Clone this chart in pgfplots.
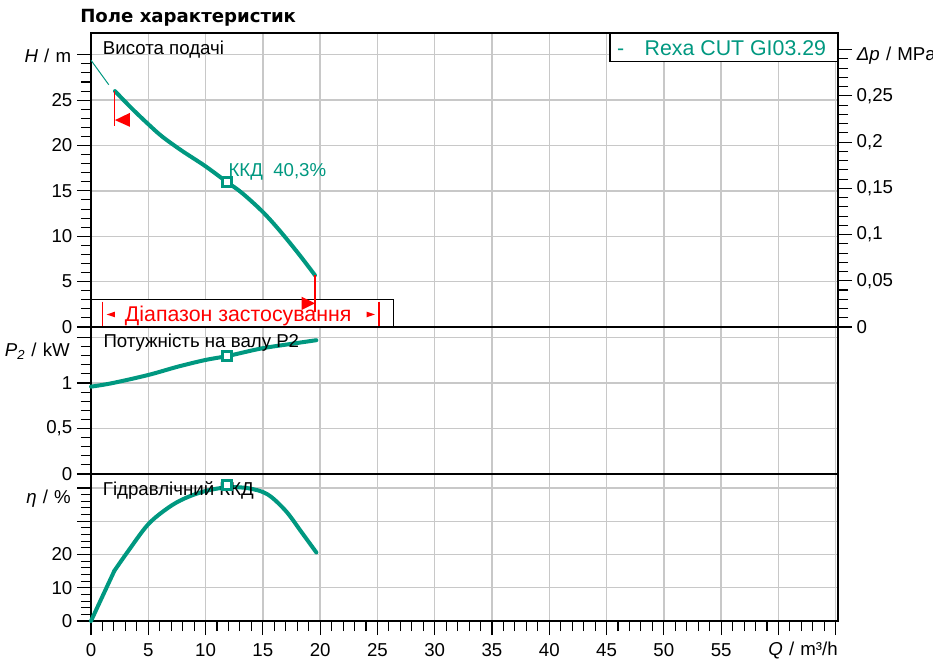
\documentclass[border=0pt]{standalone}
\usepackage{pgfplots}
\pgfplotsset{compat=1.18}
\usepackage{fontspec}
\setmainfont{Liberation Sans}
\newfontfamily\titlefont{DejaVu Sans}
\definecolor{wteal}{RGB}{0,152,128}
\definecolor{gridc}{RGB}{200,200,200}
\pgfplotsset{
  panel/.style={
    scale only axis, width=560.25pt,
    xmin=0, xmax=65.2,
    axis line style={line width=0.8pt},
    grid=major, major grid style={gridc, line width=1pt},
    xtick={0,5,...,65},
    tick align=outside,
    major tick length=10.5pt, minor tick length=7.5pt,
    tick style={black, line width=0.8pt},
    ytick pos=left,
    tick label style={font=\fontsize{14}{16}\selectfont},
    xticklabel style={yshift=-3pt},
    /pgf/number format/assume math mode=true,
    clip=false,
  },
  crv/.style={wteal, line width=3pt, line cap=round, line join=round},
  bp/.style={wteal, line width=2.2pt, only marks, mark=square*, mark size=3.3pt, mark options={fill=white}},
}
\tikzset{lbl/.style={anchor=base west, inner sep=0pt, font=\fontsize{14}{16}\selectfont},
  albl/.style={inner sep=0pt, font=\fontsize{14}{16}\selectfont}}
\newcommand{\slsep}{\hspace{0.33em}/\hspace{0.33em}}
\begin{document}
\begin{tikzpicture}
\useasboundingbox (0,0) rectangle (699.75pt,-497.25pt);
% title
\node[anchor=base west, inner sep=0pt, font=\titlefont\bfseries\fontsize{13.6}{15}\selectfont] at (60pt,-17pt) {Поле характеристик};
% ---------------- top panel: head ----------------
\begin{axis}[panel, at={(68.25pt,-245.25pt)}, anchor=south west, height=220.5pt,
  ymin=0, ymax=32.4, ytick={0,5,...,30}, yticklabels={0,5,10,15,20,25,{}},
  minor y tick num=4, xticklabels={}, x tick style={draw=none}]
\addplot[wteal, line width=0.75pt] coordinates {(0,29.4) (1.55,26.7)};
\addplot[crv, smooth, tension=0.55] coordinates {(2.09,26.0) (3.55,24.1) (5.0,22.35) (6.2,21.0) (7.9,19.45) (9.95,17.75) (11.84,16.0) (13.15,14.8) (14.9,12.8) (16.35,10.8) (18.1,8.1) (19.55,5.7)};
% application range box
\addplot[draw=black, fill=white, line width=0.8pt] coordinates {(0,0) (26.4,0) (26.4,3.08) (0,3.08)} -- cycle;
\addplot[red, line width=1.2pt] coordinates {(1.02,2.79) (1.02,0.14)};
\addplot[red, line width=1.2pt] coordinates {(25.13,2.79) (25.13,0.14)};
\addplot[fill=red, draw=none] coordinates {(1.37,1.38) (2.09,1.69) (2.09,1.07)} -- cycle;
\addplot[fill=red, draw=none] coordinates {(24.78,1.38) (24.06,1.69) (24.06,1.07)} -- cycle;
\node[red, anchor=base, inner sep=0pt, font=\fontsize{16}{18}\selectfont] at (axis cs:12.85,0.58) {Діапазон застосування};
% range limit markers
\addplot[red, line width=0.8pt] coordinates {(2.09,26.0) (2.09,22.1)};
\addplot[fill=red, draw=none] coordinates {(2.09,22.8) (3.4,23.6) (3.4,22.06)} -- cycle;
\addplot[red, line width=0.8pt] coordinates {(19.55,5.7) (19.55,1.65)};
\addplot[fill=red, draw=none] coordinates {(19.55,2.61) (18.38,3.34) (18.38,1.87)} -- cycle;
% best point
\addplot[bp] coordinates {(11.84,16.0)};
\node[lbl, wteal] at (axis cs:11.98,16.6) {ККД\ \ 40,3\%};
\node[lbl] at (axis cs:1.02,30.07) {Висота подачі};
% legend box
\addplot[draw=black, fill=white, line width=0.8pt] coordinates {(45.3,32.4) (65.2,32.4) (65.2,29.3) (45.3,29.3)} -- cycle;
\node[lbl, wteal, font=\fontsize{16}{18}\selectfont] at (axis cs:45.9,29.9) {-};
\node[lbl, wteal, font=\fontsize{16}{18}\selectfont] at (axis cs:48.3,29.9) {Rexa CUT GI03.29};
\end{axis}
% right axis (pressure)
\begin{axis}[at={(68.25pt,-245.25pt)}, anchor=south west, scale only axis, width=560.25pt, height=220.5pt,
  xmin=0, xmax=65.2, ymin=0, ymax=0.318, axis x line=none, axis y line*=right,
  axis line style={line width=0.8pt},
  ytick={0,0.05,0.1,0.15,0.2,0.25,0.3}, yticklabels={0,{0,05},{0,1},{0,15},{0,2},{0,25},{}},
  minor y tick num=4, tick align=outside, major tick length=10.5pt, minor tick length=7.5pt,
  tick style={black, line width=0.8pt},
  tick label style={font=\fontsize{14}{16}\selectfont}]
\addplot[draw=none] coordinates {(0,0)};
\end{axis}
% ---------------- middle panel: power ----------------
\begin{axis}[panel, at={(68.25pt,-355.5pt)}, anchor=south west, height=110.25pt,
  ymin=0, ymax=1.615, ytick={0,0.5,1,1.5}, yticklabels={0,{0,5},1,{}},
  minor y tick num=4, xticklabels={}, x tick style={draw=none}]
\addplot[crv, smooth, tension=0.55] coordinates {(0,0.96) (1.8,0.997) (5,1.088) (7.6,1.18) (10,1.253) (11.94,1.297) (14.9,1.38) (17.5,1.43) (19.67,1.47)};
\addplot[bp] coordinates {(11.84,1.30)};
\node[lbl] at (axis cs:1.07,1.388) {Потужність на валу P2};
\end{axis}
% ---------------- bottom panel: efficiency ----------------
\begin{axis}[panel, at={(68.25pt,-465.75pt)}, anchor=south west, height=110.25pt,
  ymin=0, ymax=44.2, ytick={0,10,20,30,40}, yticklabels={0,10,20,{},{}},
  minor y tick num=4, xtick pos=bottom, minor x tick num=4,
  xticklabels={0,5,10,15,20,25,30,35,40,45,50,55,{},{}}]
\addplot[crv] coordinates {(0,0) (2.04,15.1)};
\addplot[crv, smooth, tension=0.55] coordinates {(2.04,15.1) (3.26,21.1) (5.0,29.1) (6.76,34.1) (8.2,36.9) (10.0,39.1) (11.94,40.2) (13.75,39.9) (15.4,38.1) (17.0,33.1) (18.4,26.6) (19.67,20.6)};
\addplot[bp] coordinates {(11.84,40.8)};
\node[lbl] at (axis cs:1.02,37.8) {Гідравлічний ККД};
\end{axis}
% axis labels
\node[albl, anchor=base east] at (53.5pt,-47pt) {\textit{H}\slsep m};
\node[albl, anchor=base west] at (642.5pt,-45.75pt) {\textit{Δp}\slsep MPa};
\node[albl, anchor=base east] at (52.5pt,-267.5pt) {\textit{P\textsubscript{2}}\slsep kW};
\node[albl, anchor=base east] at (53.25pt,-377.25pt) {\textit{η}\slsep \%};
\node[albl, anchor=base east] at (628.5pt,-491.25pt) {\textit{Q}\slsep m³/h};
\end{tikzpicture}
\end{document}
